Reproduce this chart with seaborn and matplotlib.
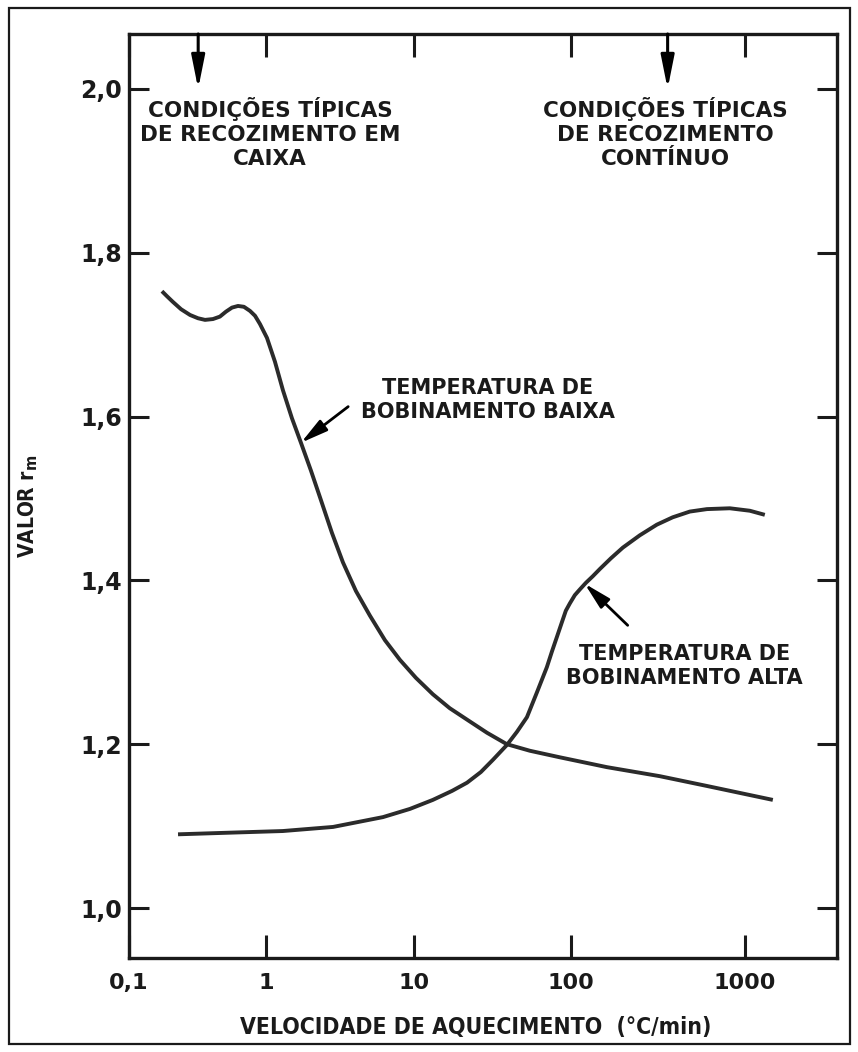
import numpy as np
import pandas as pd
import matplotlib
matplotlib.use("Agg")
import matplotlib.pyplot as plt
from matplotlib.patches import Rectangle
from matplotlib.ticker import FixedLocator, FixedFormatter
import seaborn as sns

# r_m value vs heating rate, low coiling temperature
baixa_x = [0.174, 0.189, 0.209, 0.240, 0.279, 0.319, 0.359, 0.410, 0.461, 0.510,
           0.565, 0.625, 0.690, 0.764, 0.832, 0.904, 1.016, 1.150, 1.303, 1.498,
           1.724, 2.014, 2.353, 2.792, 3.313, 4.056, 5.04, 6.37, 8.04, 10.3,
           13.2, 16.9, 21.8, 29.2, 39.1, 54.8, 85.1, 161, 324, 606, 1449]
baixa_y = [1.753, 1.747, 1.740, 1.731, 1.724, 1.720, 1.718, 1.719, 1.722, 1.728,
           1.733, 1.735, 1.734, 1.729, 1.723, 1.713, 1.696, 1.667, 1.632, 1.598,
           1.568, 1.534, 1.498, 1.458, 1.422, 1.387, 1.357, 1.327, 1.303, 1.281,
           1.261, 1.244, 1.230, 1.214, 1.200, 1.192, 1.184, 1.172, 1.161, 1.149,
           1.132]

# r_m value vs heating rate, high coiling temperature
alta_x = [0.228, 0.546, 1.30, 2.84, 6.18, 9.4, 13.2, 17.5, 21.8, 26.7, 31.9,
          39.1, 45.3, 52.5, 60.7, 70.3, 75.7, 81.5, 87.7, 92.9, 98.6, 105.4,
          112.7, 122, 133.6, 147, 170, 199, 249, 312, 385, 483, 606, 820,
          1069, 1303]
alta_y = [1.090, 1.092, 1.094, 1.099, 1.111, 1.121, 1.132, 1.143, 1.153, 1.166,
          1.181, 1.199, 1.215, 1.233, 1.263, 1.294, 1.313, 1.331, 1.349, 1.363,
          1.372, 1.382, 1.389, 1.397, 1.405, 1.414, 1.427, 1.440, 1.455, 1.468,
          1.477, 1.484, 1.487, 1.488, 1.485, 1.480]

x_ticks = [0.1, 1, 10, 100, 1000]
x_tick_labels = ["0,1", "1", "10", "100", "1000"]
y_ticks = [1.0, 1.2, 1.4, 1.6, 1.8, 2.0]
y_tick_labels = ["1,0", "1,2", "1,4", "1,6", "1,8", "2,0"]

caixa_rate = 0.32      # typical box annealing heating rate
continuo_rate = 360    # typical continuous annealing heating rate

sns.set_style("white")
plt.rcParams["font.family"] = ["DejaVu Sans"]
plt.rcParams["font.weight"] = "bold"

INK = "#1a1a1a"
CURVE = "#2b2b2b"

fig = plt.figure(figsize=(8.58, 10.52), dpi=100)
ax = fig.add_axes([129 / 858, 94 / 1052, 708 / 858, 924 / 1052])

# hand-drawn logarithmic axis: decades are not quite equally wide
log_nodes = [-1, 0, 1, 2, 3, 4]
decade_pos = [0, 137, 285, 442, 616, 790]


def fwd(x):
    x = np.clip(np.asarray(x, dtype=float), 1e-6, None)
    return np.interp(np.log10(x), log_nodes, decade_pos)


def inv(p):
    return 10 ** np.interp(np.asarray(p, dtype=float), decade_pos, log_nodes)


ax.set_xscale("function", functions=(fwd, inv))

df = pd.concat([
    pd.DataFrame({"taxa": baixa_x, "rm": baixa_y, "serie": "baixa"}),
    pd.DataFrame({"taxa": alta_x, "rm": alta_y, "serie": "alta"}),
])
sns.lineplot(data=df, x="taxa", y="rm", units="serie", estimator=None,
             sort=False, color=CURVE, lw=2.8, ax=ax,
             solid_capstyle="butt", solid_joinstyle="round")

ax.set_xlim(0.1, 10 ** 3.53)
ax.set_ylim(0.939, 2.067)

ax.xaxis.set_major_locator(FixedLocator(x_ticks))
ax.xaxis.set_major_formatter(FixedFormatter(x_tick_labels))
ax.xaxis.set_minor_locator(FixedLocator([]))
ax.yaxis.set_major_locator(FixedLocator(y_ticks))
ax.yaxis.set_major_formatter(FixedFormatter(y_tick_labels))

ax.tick_params(axis="x", which="major", direction="in", length=16.5, width=2.2,
               color=INK, top=True, bottom=True, labelsize=16, pad=11,
               labelcolor=INK)
ax.tick_params(axis="y", which="major", direction="in", length=14.5, width=2.2,
               color=INK, left=True, right=True, labelsize=17, pad=5,
               labelcolor=INK)
for lab in ax.get_xticklabels() + ax.get_yticklabels():
    lab.set_fontweight("bold")

for sp in ax.spines.values():
    sp.set_visible(True)
    sp.set_linewidth(2.4)
    sp.set_color(INK)

ax.set_xlabel("VELOCIDADE DE AQUECIMENTO  (°C/min)", fontsize=16.5,
              fontweight="bold", fontstretch="condensed", color=INK)
ax.xaxis.set_label_coords(0.49, -0.063)
ax.set_ylabel("VALOR r$_\\mathbf{m}$", fontsize=15, fontweight="bold",
              fontstretch="condensed", color=INK)
ax.yaxis.set_label_coords(-0.1257, 0.489)

txt = dict(fontweight="bold", color=INK, ha="center", va="center",
           linespacing=1.27, transform=ax.transAxes)

# annealing-condition markers along the top of the frame
arrow_top = dict(arrowstyle="-|>,head_length=1.0,head_width=0.2",
                 color="black", lw=2.2, shrinkA=0, shrinkB=0,
                 mutation_scale=20)
for rate in (caixa_rate, continuo_rate):
    ax.annotate("", xy=(rate, 2.0), xycoords="data",
                xytext=(rate, 1.0), textcoords=("data", "axes fraction"),
                arrowprops=arrow_top)

ax.text(0.199, 0.893, "CONDIÇÕES TÍPICAS\nDE RECOZIMENTO EM\nCAIXA",
        fontsize=15.5, **txt)
ax.text(0.758, 0.893, "CONDIÇÕES TÍPICAS\nDE RECOZIMENTO\nCONTÍNUO",
        fontsize=15.5, **txt)

# curve labels with pointer arrows
arrow_lbl = dict(arrowstyle="-|>,head_length=0.9,head_width=0.22",
                 color="black", lw=2.0, shrinkA=0, shrinkB=0,
                 mutation_scale=18)
ax.annotate("", xy=(1.724, 1.568), xycoords="data",
            xytext=(34, 26), textcoords="offset points", arrowprops=arrow_lbl)
ax.annotate("", xy=(120, 1.396), xycoords="data",
            xytext=(31, -30), textcoords="offset points", arrowprops=arrow_lbl)

ax.text(0.507, 0.604, "TEMPERATURA DE\nBOBINAMENTO BAIXA", fontsize=15, **txt)
ax.text(0.785, 0.316, "TEMPERATURA DE\nBOBINAMENTO ALTA", fontsize=15, **txt)

# outer frame around the whole figure
fig.add_artist(Rectangle((9 / 858, 8 / 1052), 841 / 858, 1036 / 1052,
                         transform=fig.transFigure, fill=False,
                         edgecolor=INK, lw=1.6))

fig.savefig("out.png", dpi=100)
